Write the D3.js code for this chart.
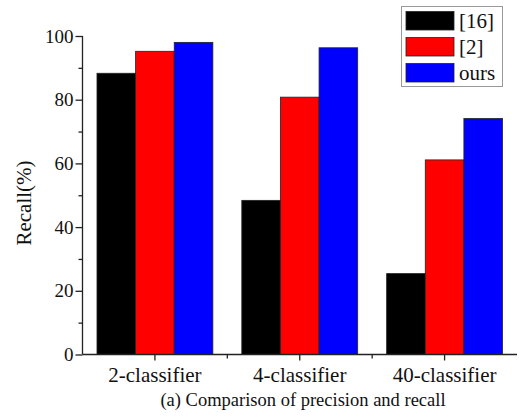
<!DOCTYPE html>
<html><head><meta charset="utf-8">
<script src="https://cdn.jsdelivr.net/npm/d3@7"></script>
<style>body{margin:0;background:#fff;}svg{display:block;} svg text{font-family:"Liberation Serif","Times New Roman",Tinos,serif !important;}</style>
</head><body>
<svg id="c" width="520" height="419"></svg>
<script>
const categories = ["2-classifier", "4-classifier", "40-classifier"];
const seriesNames = ["[16]", "[2]", "ours"];
const seriesColors = ["#000000", "#ff0000", "#0000ff"];
const values16 = [88.3, 48.4, 25.4];
const values2 = [95.2, 80.8, 61.1];
const valuesOurs = [98.0, 96.3, 74.1];
const yTicks = [0, 20, 40, 60, 80, 100];
const yMinorTicks = [10, 30, 50, 70, 90];

const series = [values16, values2, valuesOurs];
const svg = d3.select("#c");
const x0 = 82.5, x1 = 517, yBottom = 354.5, yTop = 36;

const x = d3.scaleBand().domain(categories).range([x0, x1]).paddingInner(0.2).paddingOuter(0.1);
const xOuter = d3.scaleBand().domain(categories).range([x0, x1]);
const xs = d3.scaleBand().domain(seriesNames).range([0, x.bandwidth()]);
const y = d3.scaleLinear().domain([0, 100]).range([yBottom, yTop]);

// bars
categories.forEach((c, ci) => {
  seriesNames.forEach((s, si) => {
    svg.append("rect")
      .attr("x", x(c) + xs(s))
      .attr("y", y(series[si][ci]))
      .attr("width", xs.bandwidth())
      .attr("height", y(0) - y(series[si][ci]))
      .attr("fill", seriesColors[si])
      .attr("stroke", "#222")
      .attr("stroke-width", 0.8);
  });
});

// y axis
const yAxis = svg.append("g").attr("transform", `translate(${x0},0)`)
  .call(d3.axisLeft(y).tickValues(yTicks).tickSize(7).tickPadding(2).tickFormat(d3.format("d")));
yAxis.attr("font-family", null);
yAxis.select(".domain").attr("stroke", "#222").attr("stroke-width", 1.3).attr("d", `M0,${yBottom}V${yTop}`);
yAxis.selectAll(".tick line").attr("stroke", "#222").attr("stroke-width", 1.3);
yAxis.selectAll("text").attr("font-size", 19).attr("fill", "#111");
svg.append("g").attr("transform", `translate(${x0},0)`)
  .call(d3.axisLeft(y).tickValues(yMinorTicks).tickSize(4).tickFormat(""))
  .call(g => g.select(".domain").remove())
  .selectAll("line").attr("stroke", "#222").attr("stroke-width", 1.3);

// x axis
const xAxis = svg.append("g").attr("transform", `translate(0,${yBottom})`)
  .call(d3.axisBottom(xOuter).tickSize(6).tickPadding(7));
xAxis.attr("font-family", null);
xAxis.select(".domain").attr("stroke", "#222").attr("stroke-width", 1.3).attr("d", `M${x0},0H${x1}`);
xAxis.selectAll(".tick line").attr("stroke", "#222").attr("stroke-width", 1.3);
xAxis.selectAll("text").attr("font-size", 21).attr("fill", "#111");
// minor ticks between categories
const bounds = categories.slice(1).map(c => xOuter(c));
svg.append("g").selectAll("line").data(bounds).join("line")
  .attr("x1", d => d).attr("x2", d => d).attr("y1", yBottom).attr("y2", yBottom + 4)
  .attr("stroke", "#222").attr("stroke-width", 1.3);

// y label
svg.append("text").attr("transform", `translate(31,203) rotate(-90)`)
  .attr("text-anchor", "middle").attr("font-size", 21).attr("fill", "#111").text("Recall(%)");

// caption
svg.append("text").attr("x", 303).attr("y", 406).attr("text-anchor", "middle")
  .attr("font-size", 18.5).attr("fill", "#111").text("(a) Comparison of precision and recall");

// legend
const lg = svg.append("g");
lg.append("rect").attr("x", 401.5).attr("y", 6.5).attr("width", 101).attr("height", 80)
  .attr("fill", "#fff").attr("stroke", "#999").attr("stroke-width", 1);
seriesNames.forEach((s, i) => {
  lg.append("rect").attr("x", 406).attr("y", 11.5 + i * 26).attr("width", 48).attr("height", 18.5)
    .attr("fill", seriesColors[i]).attr("stroke", "#222").attr("stroke-width", 0.8);
  lg.append("text").attr("x", 459).attr("y", 28 + i * 26).attr("font-size", 21).attr("fill", "#111").text(s);
});
</script>
</body></html>
